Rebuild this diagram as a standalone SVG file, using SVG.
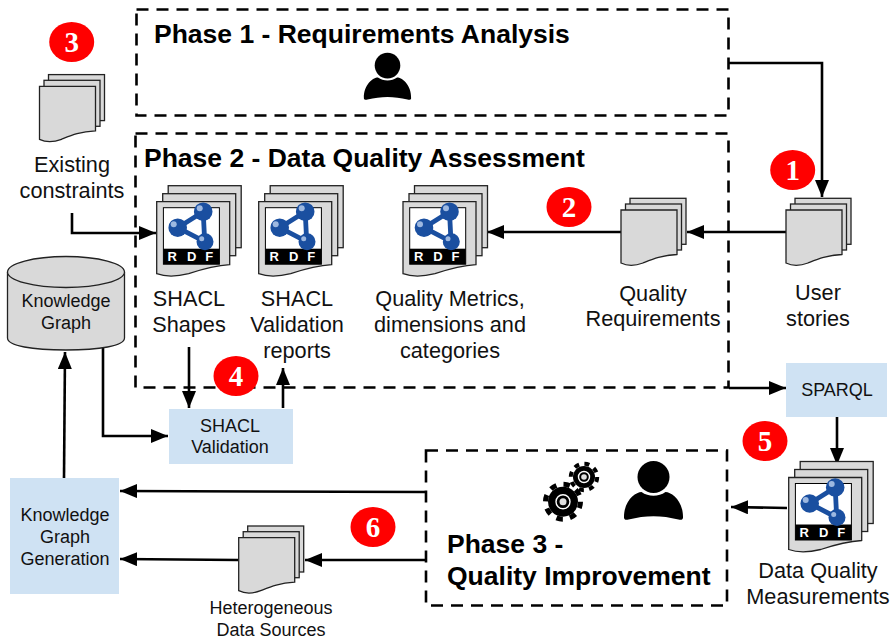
<svg xmlns="http://www.w3.org/2000/svg" width="894" height="640" viewBox="0 0 894 640">
<style>
text{font-family:"Liberation Sans",Arial,sans-serif;fill:#111;text-anchor:middle}
.t{font-size:21.7px}
.s{font-size:18px}
.h{font-size:26.5px;font-weight:bold;text-anchor:start;fill:#000}
.n{font-family:"Liberation Serif","Times New Roman",serif;font-size:29px;font-weight:bold;fill:#fff}
.l{font-size:13px;font-weight:bold;fill:#fff}
.phase{fill:none;stroke:#000;stroke-width:2.6;stroke-dasharray:12 8}
.c{fill:none;stroke:#000;stroke-width:2.6}
.sheet{fill:#d9d9d9;stroke:#222;stroke-width:1.3}
.blue{fill:#cfe2f3}
.red{fill:#f00}
.hub{fill:none;stroke:#fff;stroke-width:1.4}
</style>
<defs>
<marker id="a" markerUnits="userSpaceOnUse" markerWidth="18" markerHeight="14" refX="17" refY="7" orient="auto"><path d="M0 0L17 7L0 14Z" fill="#000"/></marker>
<path id="sheet" d="M0 0H56V44.500C40 45.500 32 49 22 53C14 56 6 56 0 53Z"/>
<g id="doc">
<rect class="sheet" x="9" y="-11.700" width="56" height="46"/>
<rect class="sheet" x="4.500" y="-6" width="56" height="46"/>
<use href="#sheet" class="sheet"/>
</g>
<g id="rdf">
<rect class="sheet" x="11.500" y="-16" width="73" height="62"/>
<rect class="sheet" x="6" y="-8" width="73" height="62"/>
<path class="sheet" d="M0 0H73V63C56 64 44 68 32 72C20 75 8 75 0 72Z"/>
<rect x="6.700" y="6" width="56" height="56.500" fill="#fff" stroke="#000" stroke-width="1"/>
<rect x="6.700" y="47" width="56" height="15.500" fill="#000"/>
<path d="M21 26L46.500 10L48 40Z" fill="none" stroke="#1a4fa0" stroke-width="4.800" stroke-linejoin="round"/>
<circle cx="21" cy="26" r="9.300" fill="#1a4fa0"/>
<circle cx="46.500" cy="10" r="9.300" fill="#1a4fa0"/>
<circle cx="48.300" cy="40" r="8.500" fill="#1a4fa0"/>
<circle cx="17" cy="22.500" r="3" fill="#9db8e0"/>
<circle cx="43" cy="6.500" r="3" fill="#9db8e0"/>
<circle cx="45" cy="37" r="2.500" fill="#9db8e0"/>
<text class="l" x="15.600" y="59.500">R</text>
<text class="l" x="35" y="59.500">D</text>
<text class="l" x="52.600" y="59.500">F</text>
</g>
<g id="person">
<circle cx="0" cy="-18" r="16" fill="#000"/>
<path d="M-29.500 23C-30 6-18-3-12-3C-5 2 5 2 12-3C18-3 30 6 29.500 23C29 25 27 25 25 24.500C8 20-8 20-25 24.500C-27 25-29 25-29.500 23Z" fill="#000"/>
</g>
</defs>

<g id="connectors">
<path class="c" d="M729 63H822V197" marker-end="url(#a)"/>
<path class="c" d="M786 232H687" marker-end="url(#a)"/>
<path class="c" d="M621 232H487" marker-end="url(#a)"/>
<path class="c" d="M72 213V233H156" marker-end="url(#a)"/>
<path class="c" d="M189 347V408" marker-end="url(#a)"/>
<path class="c" d="M283 408V368" marker-end="url(#a)"/>
<path class="c" d="M103 347V436H168" marker-end="url(#a)"/>
<path class="c" d="M64 478L65 352" marker-end="url(#a)"/>
<path class="c" d="M729 388H786" marker-end="url(#a)"/>
<path class="c" d="M837 417V465" marker-end="url(#a)"/>
<path class="c" d="M787 508L731 507" marker-end="url(#a)"/>
<path class="c" d="M425 492L120 491" marker-end="url(#a)"/>
<path class="c" d="M425 560H305" marker-end="url(#a)"/>
<path class="c" d="M238 560L120 559" marker-end="url(#a)"/>
</g>

<g id="phase1">
<rect class="phase" x="136.500" y="9.500" width="592" height="106"/>
<text class="h" x="154" y="43">Phase 1 - Requirements Analysis</text>
<use href="#person" transform="translate(387.500 80) scale(.8)"/>
</g>
<g id="phase2">
<rect class="phase" x="135.500" y="133.500" width="593" height="254"/>
<text class="h" x="144" y="167">Phase 2 - Data Quality Assessment</text>
</g>
<g id="phase3">
<rect class="phase" x="426" y="450.500" width="301" height="155"/>
<circle cx="563" cy="501.700" r="15" fill="#000"/>
<circle cx="563" cy="501.700" r="17.500" fill="none" stroke="#000" stroke-width="5" stroke-dasharray="6.500 7.240"/>
<circle class="hub" cx="563" cy="501.700" r="7"/>
<circle cx="563" cy="501.700" r="3.500" fill="#e0e0e0"/>
<circle cx="584" cy="477" r="11" fill="#000"/>
<circle cx="584" cy="477" r="13.200" fill="none" stroke="#000" stroke-width="4" stroke-dasharray="5 5.370"/>
<circle class="hub" cx="584" cy="477" r="5.500"/>
<circle cx="584" cy="477" r="2.800" fill="#e0e0e0"/>
<use href="#person" transform="translate(653.500 495)"/>
<text class="h" x="447" y="553">Phase 3 -</text>
<text class="h" x="447" y="585">Quality Improvement</text>
</g>

<g id="n3"><ellipse class="red" cx="71.700" cy="42" rx="22.500" ry="20"/><text class="n" x="71.700" y="52">3</text></g>
<g id="n1"><ellipse class="red" cx="792.700" cy="170" rx="22.500" ry="20"/><text class="n" x="792.700" y="180">1</text></g>
<g id="n2"><ellipse class="red" cx="569" cy="207" rx="22.500" ry="20"/><text class="n" x="569" y="217">2</text></g>
<g id="n4"><ellipse class="red" cx="236" cy="376" rx="22.500" ry="20"/><text class="n" x="236" y="386">4</text></g>
<g id="n5"><ellipse class="red" cx="765" cy="441" rx="22.500" ry="20"/><text class="n" x="765" y="451">5</text></g>
<g id="n6"><ellipse class="red" cx="373" cy="527" rx="22.500" ry="20"/><text class="n" x="373" y="537">6</text></g>

<g id="existing-constraints">
<use href="#doc" x="39.500" y="86.300"/>
<text class="t" x="72" y="172">Existing</text>
<text class="t" x="72" y="198">constraints</text>
</g>
<g id="shacl-shapes">
<use href="#rdf" x="156.700" y="201.700"/>
<text class="t" x="189" y="306">SHACL</text>
<text class="t" x="189" y="332">Shapes</text>
</g>
<g id="shacl-reports">
<use href="#rdf" x="258.700" y="201.700"/>
<text class="t" x="297" y="306">SHACL</text>
<text class="t" x="297" y="332">Validation</text>
<text class="t" x="297" y="358">reports</text>
</g>
<g id="quality-metrics">
<use href="#rdf" x="403" y="201.700"/>
<text class="t" x="450" y="306">Quality Metrics,</text>
<text class="t" x="450" y="332">dimensions and</text>
<text class="t" x="450" y="358">categories</text>
</g>
<g id="quality-requirements">
<use href="#doc" x="621" y="210"/>
<text class="t" x="653" y="301">Quality</text>
<text class="t" x="653" y="326">Requirements</text>
</g>
<g id="user-stories">
<use href="#doc" x="786" y="210"/>
<text class="t" x="818" y="300">User</text>
<text class="t" x="818" y="326">stories</text>
</g>
<g id="knowledge-graph">
<path class="sheet" d="M7.500 272V338C7.500 346 33 350 66 350S124.500 346 124.500 338V272"/>
<ellipse class="sheet" cx="66" cy="272" rx="58.500" ry="15.500"/>
<text class="s" x="66" y="307">Knowledge</text>
<text class="s" x="66" y="329">Graph</text>
</g>
<g id="shacl-validation">
<rect class="blue" x="169" y="409" width="124" height="55"/>
<text class="s" x="230" y="432">SHACL</text>
<text class="s" x="230" y="453">Validation</text>
</g>
<g id="sparql">
<rect class="blue" x="786" y="363" width="101" height="54"/>
<text class="s" x="837" y="396">SPARQL</text>
</g>
<g id="kg-generation">
<rect class="blue" x="10" y="478" width="109" height="116"/>
<text class="s" x="65" y="521">Knowledge</text>
<text class="s" x="65" y="543">Graph</text>
<text class="s" x="65" y="565">Generation</text>
</g>
<g id="heterogeneous">
<use href="#doc" x="238.700" y="537.700"/>
<text class="s" x="271" y="614">Heterogeneous</text>
<text class="s" x="271" y="636">Data Sources</text>
</g>
<g id="dq-measurements">
<use href="#rdf" x="788.700" y="477.500"/>
<text class="t" x="818" y="578">Data Quality</text>
<text class="t" x="818" y="604">Measurements</text>
</g>
</svg>
